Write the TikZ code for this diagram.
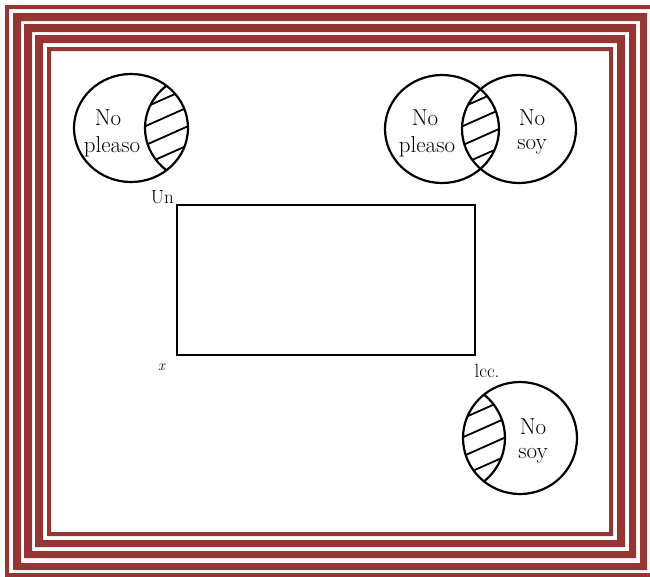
\documentclass[tikz,border=0pt]{standalone}
\usepackage{fontspec}
\usepackage{tikz}
\usetikzlibrary{positioning}
\definecolor{frameRed}{RGB}{150,54,52}

\begin{document}
\begin{tikzpicture}[x=1pt, y=-1pt,
      venn/.style={draw, line width=2.2pt},
      hatch/.style={line width=1.8pt},
      band/.style={fill=frameRed, even odd rule},
      txt/.style={font=\fontsize{23}{25}\selectfont, inner sep=0pt},
      lbl/.style={font=\fontsize{19}{21}\selectfont, inner sep=0pt},
      box/.style={draw, line width=2.2pt, inner sep=0pt, outer sep=0pt,
                  minimum width=298pt, minimum height=150pt}]

    \useasboundingbox (0,0) rectangle (650,576);

    % ---- Frame (5 nested bands) ----
    \fill[band] (5,5)   rectangle (656,580) (9,9)   rectangle (652,573);
    \fill[band] (13,13) rectangle (647,570) (21,21) rectangle (640,563);
    \fill[band] (24,24) rectangle (636,558) (32,32) rectangle (629,551);
    \fill[band] (35,35) rectangle (625,547) (43,43) rectangle (617,540);
    \fill[band] (47,47) rectangle (613,536) (51,51) rectangle (609,532);

    % ---- Layout ----
    \def\ry{54pt}     % circle y radius
    \def\rx{57pt}     % circle x radius
    \def\sp{19}       % hatch spacing

    % ---- Top left circle ----
    \draw[venn] (131,128) ellipse [x radius=\rx, y radius=\ry];
    \begin{scope}
      \clip (131,128) ellipse [x radius=\rx, y radius=\ry];
      \draw[venn] (202,128) ellipse [x radius=\rx, y radius=\ry];
      \clip (202,128) ellipse [x radius=\rx, y radius=\ry];
      \foreach \k in {-5,...,5}
        \draw[hatch] (130,{128+\k*\sp+24}) -- ++(90,-40);
    \end{scope}
    \node[txt] (tlNo) at (108,118) {No};
    \node[txt] (tlPl) at (112,147) {pleaso};

    % ---- Top right pair ----
    \draw[venn] (442,129) ellipse [x radius=\rx, y radius=\ry];
    \draw[venn] (519,129) ellipse [x radius=\rx, y radius=\ry];
    \begin{scope}
      \clip (442,129) ellipse [x radius=\rx, y radius=\ry];
      \clip (519,129) ellipse [x radius=\rx, y radius=\ry];
      \foreach \k in {-5,...,5}
        \draw[hatch] (445,{129+\k*\sp+24}) -- ++(90,-40);
    \end{scope}
    \node[txt] (trNo) at (425,118) {No};
    \node[txt] (trPl) at (427,147) {pleaso};
    \node[txt] (trNo2) at (532,118) {No};
    \node[txt] (trSoy) at (532,147) {soy};

    % ---- Rectangle ----
    \node[box] (rect) at (326,280) {};
    \node[lbl, anchor=south east] (lblUn) at ([xshift=-3pt, yshift=1pt]rect.north west) {Un};
    \node[lbl, anchor=north east] (lblX) at ([xshift=-12pt, yshift=-9pt]rect.south west) {\fontsize{15}{16}\selectfont\itshape x};
    \node[lbl, anchor=north] (lblLcc) at ([xshift=12pt, yshift=-9pt]rect.south east) {lcc.};

    % ---- Bottom right circle ----
    \draw[venn] (520,438) ellipse [x radius=\rx, y radius=56pt];
    \begin{scope}
      \clip (520,438) ellipse [x radius=\rx, y radius=56pt];
      \draw[venn] (448,438) ellipse [x radius=\rx, y radius=56pt];
      \clip (448,438) ellipse [x radius=\rx, y radius=56pt];
      \foreach \k in {-5,...,5}
        \draw[hatch] (450,{438+\k*\sp+24}) -- ++(90,-40);
    \end{scope}
    \node[txt] (brNo) at (533,427) {No};
    \node[txt] (brSoy) at (533,456) {soy};

\end{tikzpicture}
\end{document}
